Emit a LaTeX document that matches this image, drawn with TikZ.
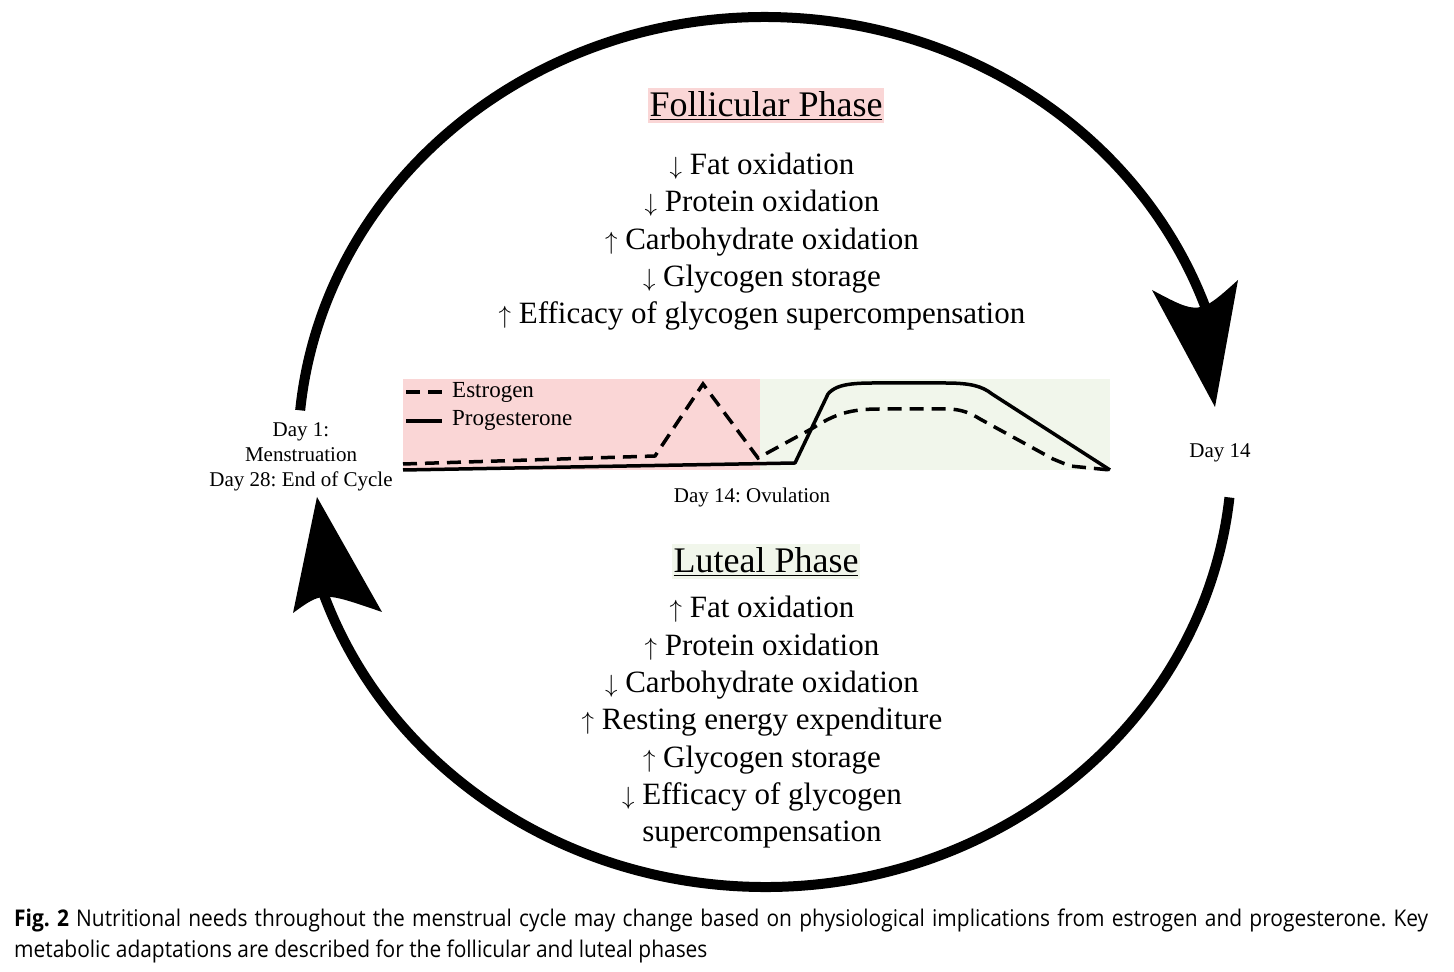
\documentclass[tikz,border=0pt]{standalone}
\usepackage{fontspec}
\setmainfont{Liberation Serif}
\newfontfamily\capfont[FakeStretch=0.91]{Open Sans}
\usetikzlibrary{positioning}
\definecolor{follpink}{RGB}{250,214,214}
\definecolor{lutgreen}{RGB}{241,246,235}
\frenchspacing

\begin{document}
\begin{tikzpicture}[x=1pt,y=1pt,node distance=37.3pt,on grid,
    item/.style={font=\fontsize{31}{36}\selectfont,inner sep=0pt,text height=22pt,text depth=7pt},
    phase/.style={font=\fontsize{36}{40}\selectfont,inner xsep=2pt,inner ysep=4pt,anchor=base},
    daylbl/.style={font=\fontsize{21}{25}\selectfont,align=center,inner sep=0pt},
    legendlbl/.style={font=\fontsize{23}{26}\selectfont,inner sep=0pt,anchor=west},
    capline/.style={font=\capfont\fontsize{23}{28}\selectfont,inner sep=0pt,anchor=base west},
    cyclearc/.style={line width=10pt},
    progline/.style={line width=3.5pt,line join=round},
    estroline/.style={line width=3.5pt,dash pattern=on 14pt off 8pt}]
  \useasboundingbox (0,0) rectangle (1454,972);

  % follicular phase
  \node[phase,fill=follpink] (follicular) at (766,855) {\underline{Follicular Phase}};
  \node[item] (f1) at (762,805) {$\downarrow$ Fat oxidation};
  \node[item,below=of f1] (f2) {$\downarrow$ Protein oxidation};
  \node[item,below=of f2] (f3) {$\uparrow$ Carbohydrate oxidation};
  \node[item,below=of f3] (f4) {$\downarrow$ Glycogen storage};
  \node[item,below=of f4] (f5) {$\uparrow$ Efficacy of glycogen supercompensation};

  % hormone chart
  \fill[follpink] (403,502) rectangle (760,593);
  \fill[lutgreen] (760,502) rectangle (1110,593);
  \node[legendlbl] (estrolbl) at (452,580) {Estrogen};
  \node[legendlbl] (proglbl) at (452,552) {Progesterone};
  \draw[estroline] (406,580) -- (442,580);
  \draw[progline] (406,551) -- (442,551);
  \draw[progline] (403,502) -- (795,509) -- (828,578)
    .. controls (838,590) and (860,589) .. (890,589) -- (945,589)
    .. controls (970,589) and (982,586) .. (992,578) -- (1110,502);
  \draw[estroline] (403,508) -- (655,516) -- (703,588) -- (758,514) -- (813,544)
    .. controls (835,558) and (850,563) .. (880,563) -- (947,563)
    .. controls (962,563) and (972,558) .. (980,553) -- (1053,513) -- (1070,506) -- (1110,502);
  \node[daylbl] (ovulation) at (752,475) {Day 14: Ovulation};

  % day labels
  \node[daylbl] (day1) at (301,515) {Day 1:\\Menstruation\\Day 28: End of Cycle};
  \node[daylbl] (day14) at (1220,519) {Day 14};

  % luteal phase
  \node[phase,fill=lutgreen] (luteal) at (766,399) {\underline{Luteal Phase}};
  \node[item] (l1) at (762,361.5) {$\uparrow$ Fat oxidation};
  \node[item,below=of l1] (l2) {$\uparrow$ Protein oxidation};
  \node[item,below=of l2] (l3) {$\downarrow$ Carbohydrate oxidation};
  \node[item,below=of l3] (l4) {$\uparrow$ Resting energy expenditure};
  \node[item,below=of l4] (l5) {$\uparrow$ Glycogen storage};
  \node[item,below=of l5] (l6) {$\downarrow$ Efficacy of glycogen};
  \node[item,below=of l6] (l7) {supercompensation};

  % cycle arrows
  \coordinate (ctr) at (765,520);
  \draw[cyclearc] (ctr) ++(174.5:467 and 435) coordinate (topstart)
    arc[start angle=174.5,end angle=19,x radius=467,y radius=435] coordinate (topend);
  \fill (1152,682) -- (1215,565) -- (1238,692) .. controls (1199,657) .. (1152,682) -- cycle;
  \draw[cyclearc] (ctr) ++(-6:467 and 435) coordinate (botstart)
    arc[start angle=-6,end angle=-161,x radius=467,y radius=435] coordinate (botend);
  \fill (317,475) -- (382,360) .. controls (322.5,380.5) .. (293,359) -- cycle;

  % caption
  \node[capline] (cap1) at (14,45) {\makebox[1414pt][s]{\textbf{Fig. 2} Nutritional needs throughout the menstrual cycle may change based on physiological implications from estrogen and progesterone. Key}};
  \node[capline] (cap2) at (14,14) {metabolic adaptations are described for the follicular and luteal phases};
\end{tikzpicture}
\end{document}
